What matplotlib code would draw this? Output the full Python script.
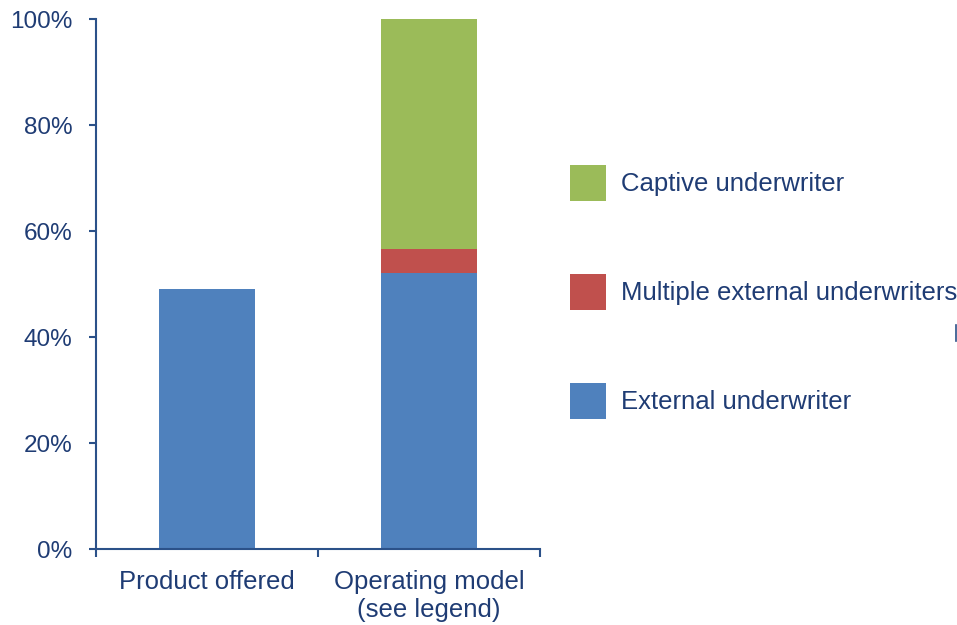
import matplotlib
matplotlib.use("Agg")
import matplotlib.pyplot as plt
from matplotlib.patches import Patch
from matplotlib.lines import Line2D
import numpy as np

categories = ["Product offered", "Operating model\n(see legend)"]
series_names = ["External underwriter", "Multiple external underwriters", "Captive underwriter"]
external = [49.1, 52.1]
multiple = [0.0, 4.5]
captive = [0.0, 43.4]
colors = ["#4F81BD", "#C0504D", "#9BBB59"]
yticks = [0, 20, 40, 60, 80, 100]
ytick_labels = ["0%", "20%", "40%", "60%", "80%", "100%"]

text_color = "#1F3C74"
axis_color = "#2B5189"
fs = 18.5

plt.rcParams['font.family'] = ['Liberation Sans', 'DejaVu Sans']

W, H = 957, 625
fig = plt.figure(figsize=(W / 100, H / 100), dpi=100)
ax = fig.add_axes([96 / W, 1 - 549 / H, (540 - 96) / W, (549 - 19) / H])

x = np.arange(len(categories))
bw = 0.43
values = [external, multiple, captive]
bottom = np.zeros(len(categories))
for name, vals, c in zip(series_names, values, colors):
    v = np.array(vals)
    ax.bar(x, v, bw, bottom=bottom, color=c, label=name, linewidth=0)
    bottom += v

ax.set_xlim(-0.5, len(categories) - 0.5)
ax.set_ylim(0, 100)
ax.set_yticks(yticks)
ax.set_yticklabels(ytick_labels)
ax.set_xticks(np.arange(len(categories) + 1) - 0.5)
ax.set_xticklabels([])
ax.set_xticks(x, minor=True)
ax.set_xticklabels(categories, minor=True)

for s in ["top", "right"]:
    ax.spines[s].set_visible(False)
for s in ["left", "bottom"]:
    ax.spines[s].set_color(axis_color)
    ax.spines[s].set_linewidth(1.5)

ax.tick_params(axis="y", direction="out", length=5, width=1.5, color=axis_color,
               labelcolor=text_color, labelsize=17.5, pad=12)
ax.tick_params(axis="x", which="major", direction="out", length=6, width=1.5, color=axis_color)
ax.tick_params(axis="x", which="minor", length=0, labelcolor=text_color, labelsize=fs, pad=15)

handles = [Patch(facecolor=colors[i], edgecolor="none") for i in [2, 1, 0]]
labels = [series_names[i] for i in [2, 1, 0]]
leg = fig.legend(handles, labels, loc="upper left",
                 bbox_to_anchor=(570 / W, 1 - 165 / H), borderaxespad=0, borderpad=0,
                 frameon=False, fontsize=fs, handlelength=1.40, handleheight=1.78,
                 handletextpad=0.58, labelspacing=2.84)
for t in leg.get_texts():
    t.set_color(text_color)

fig.add_artist(Line2D([955.5 / W, 955.5 / W], [1 - 325 / H, 1 - 341 / H],
                      color=axis_color, linewidth=1.2))

fig.savefig("out.png", dpi=100)
